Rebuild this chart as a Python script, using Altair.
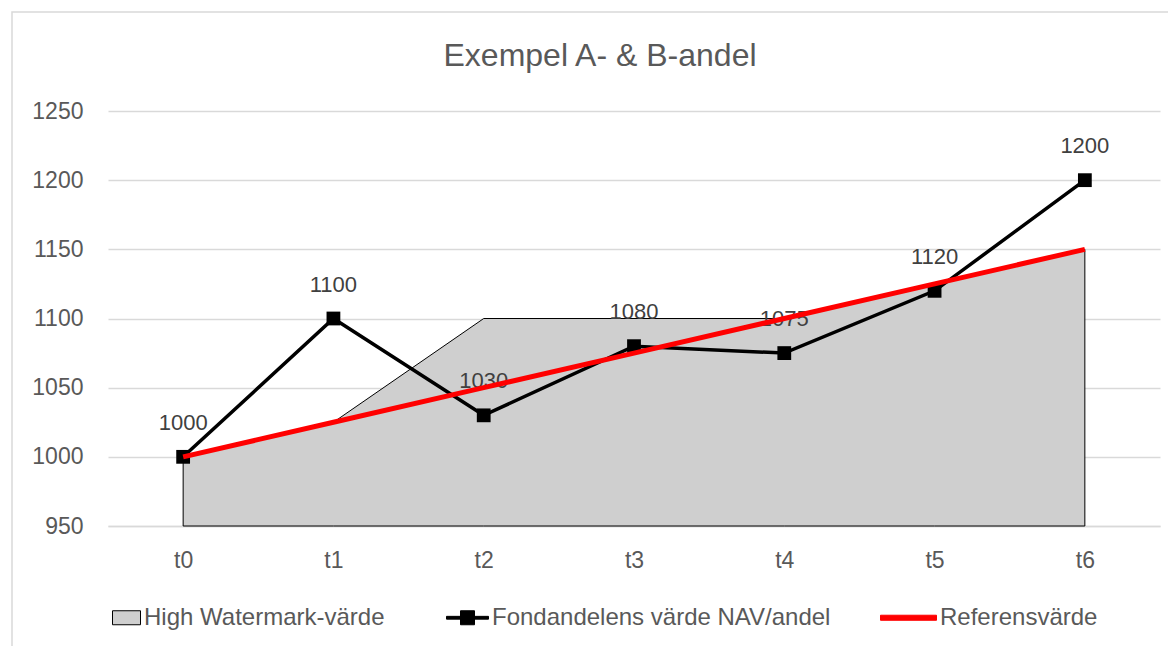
import altair as alt
import pandas as pd

categories = ["t0", "t1", "t2", "t3", "t4", "t5", "t6"]
hwm_values = [1000, 1025, 1100, 1100, 1100, 1125, 1150]
nav_values = [1000, 1100, 1030, 1080, 1075, 1120, 1200]
ref_values = [1000, 1025, 1050, 1075, 1100, 1125, 1150]
y_ticks = [950, 1000, 1050, 1100, 1150, 1200, 1250]
series_names = ["High Watermark-värde", "Fondandelens värde NAV/andel", "Referensvärde"]
chart_title = "Exempel A- & B-andel"

FONT = "Liberation Sans"
GRAY_TXT = "#595959"

df = pd.DataFrame({"cat": categories, "hwm": hwm_values, "nav": nav_values, "ref": ref_values})
legend_df = pd.DataFrame({"series": series_names, "cat": ["t0"] * 3})

x_enc = alt.X("cat:N", sort=categories,
              scale=alt.Scale(domain=categories, padding=0.5),
              axis=alt.Axis(title=None, labelAngle=0, ticks=False, grid=False,
                            domainColor="#d9d9d9", domainWidth=1.5,
                            labelFontSize=23, labelColor=GRAY_TXT, labelFont=FONT,
                            labelPadding=23))
y_scale = alt.Scale(domain=[950, 1250], zero=False, nice=False)
y_axis = alt.Axis(title=None, values=y_ticks, format="d", ticks=False, domain=False,
                  gridColor="#d9d9d9", gridWidth=1.5,
                  labelFontSize=23, labelColor=GRAY_TXT, labelFont=FONT, labelPadding=25)

base = alt.Chart(df)

frame = alt.Chart(pd.DataFrame({"k": [0]})).mark_rect(
    fill=None, stroke="#d9d9d9", strokeWidth=1.5, clip=False
).encode(x=alt.value(-96), x2=alt.value(1080), y=alt.value(-99), y2=alt.value(580))

area = base.mark_area(fill="#cfcfcf", stroke="black", strokeWidth=1).encode(
    x=x_enc,
    y=alt.Y("hwm:Q", scale=y_scale, axis=y_axis),
    y2=alt.datum(950),
)

labels = base.mark_text(dy=-34, fontSize=22, color="#404040", font=FONT).encode(
    x=alt.X("cat:N", sort=categories),
    y=alt.Y("nav:Q"),
    text=alt.Text("nav:Q"),
)

nav_line = base.mark_line(color="black", strokeWidth=3.5).encode(
    x=alt.X("cat:N", sort=categories),
    y=alt.Y("nav:Q"),
)
nav_pts = base.mark_square(color="black", size=190, opacity=1).encode(
    x=alt.X("cat:N", sort=categories),
    y=alt.Y("nav:Q"),
)
ref_line = base.mark_line(color="#ff0000", strokeWidth=5).encode(
    x=alt.X("cat:N", sort=categories),
    y=alt.Y("ref:Q"),
)

shape_paths = [
    "M0,-0.25H1V0.25H0Z",
    "M-0.5,-0.05H1V0.05H-0.5Z M0,-0.25H0.5V0.25H0Z",
    "M-1,-0.09H1V0.09H-1Z",
]
legend_cfg = alt.Legend(title=None, orient="none", direction="horizontal",
                        legendX=-24, legendY=478, labelFontSize=24, labelColor=GRAY_TXT,
                        labelFont=FONT, labelLimit=0, symbolSize=3136, symbolStrokeWidth=1,
                        labelOffset=3, columnPadding=47, padding=0, symbolOpacity=1)
legend_layer = alt.Chart(legend_df).mark_point(filled=True, clip=True, opacity=1).encode(
    x=alt.X("cat:N", sort=categories),
    y=alt.value(5000),
    fill=alt.Fill("series:N", sort=series_names,
                  scale=alt.Scale(domain=series_names, range=["#cfcfcf", "black", "#ff0000"]),
                  legend=legend_cfg),
    stroke=alt.Stroke("series:N", sort=series_names,
                      scale=alt.Scale(domain=series_names, range=["black", "black", "#ff0000"]),
                      legend=legend_cfg),
    shape=alt.Shape("series:N", sort=series_names,
                    scale=alt.Scale(domain=series_names, range=shape_paths),
                    legend=legend_cfg),
)

chart = alt.layer(frame, area, labels, nav_line, nav_pts, ref_line, legend_layer).properties(
    width=1052, height=415,
    padding={"left": 100, "top": 103, "right": 8, "bottom": 120},
    autosize=alt.AutoSizeParams(type="none"),
    title=alt.TitleParams(chart_title, fontSize=32, color=GRAY_TXT, font=FONT,
                          fontWeight="normal", anchor="middle", dx=-34, offset=0, dy=62),
).configure(background="white").configure_view(stroke=None, strokeWidth=0)

chart.save("out.html", embed_options={"renderer": "svg", "actions": False})
